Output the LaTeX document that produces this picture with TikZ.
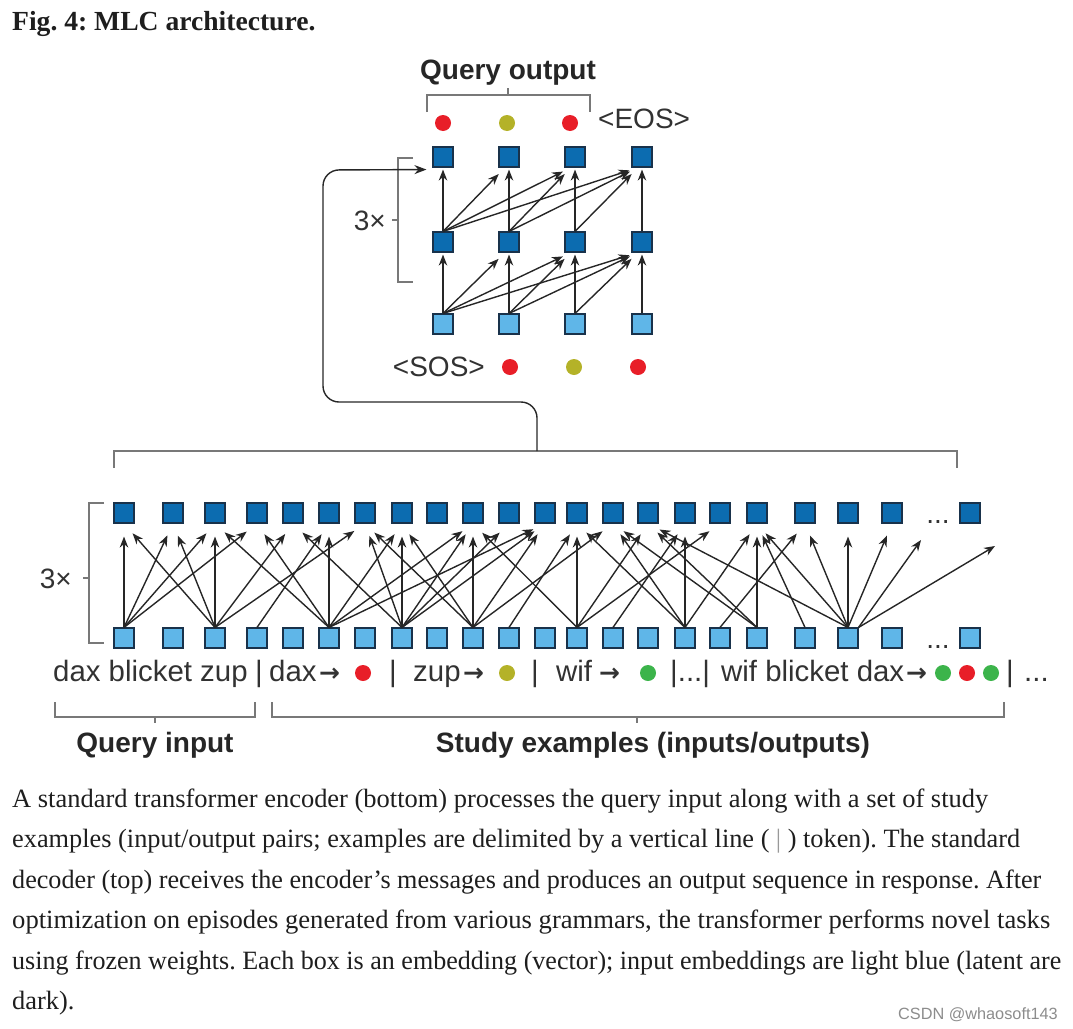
\documentclass[tikz,border=0pt]{standalone}
\usepackage{graphicx}
\usepackage{fontspec}
\setmainfont{Liberation Serif}
\setsansfont{Liberation Sans}
\newfontfamily\symfont{DejaVu Sans}
\usetikzlibrary{arrows.meta,calc}
\definecolor{lightbox}{RGB}{95,182,232}
\definecolor{darkbox}{RGB}{12,108,176}
\definecolor{boxedge}{RGB}{25,50,75}
\definecolor{dotred}{RGB}{232,30,40}
\definecolor{dotolive}{RGB}{180,178,40}
\definecolor{dotgreen}{RGB}{60,180,75}
\definecolor{brkgray}{RGB}{120,120,120}
\definecolor{lblgray}{RGB}{50,50,50}
\definecolor{captxt}{RGB}{30,30,30}
\frenchspacing
\newcommand{\capline}[2]{\resizebox{#1pt}{\height}{#2}}
\begin{document}
\begin{tikzpicture}[x=1pt,y=-1pt,
  inbox/.style={draw=boxedge, fill=lightbox, minimum size=20pt, inner sep=0pt, line width=1.1pt},
  latbox/.style={inbox, fill=darkbox},
  dot/.style={circle, inner sep=0pt, minimum size=16pt},
  att/.style={-{Stealth[length=11pt,width=8.5pt]}, line width=1.4pt, black!85},
  brk/.style={draw=brkgray, line width=1.1pt},
  lbl/.style={font=\sffamily\fontsize{28}{32}\selectfont, text=lblgray, inner sep=0pt, anchor=base west},
  tok/.style={lbl, font=\sffamily\fontsize{29.4}{32}\selectfont},
  blbl/.style={font=\sffamily\bfseries\fontsize{28}{32}\selectfont, text=black!85, inner sep=0pt, anchor=base},
  sym/.style={font=\symfont\bfseries\fontsize{25}{30}\selectfont, text=black!80, inner sep=0pt, anchor=base west},
  captext/.style={anchor=base west, inner sep=0pt, font=\fontsize{26.4}{30}\selectfont, text=captxt},
  wm/.style={anchor=base east, inner sep=0pt, font=\sffamily\fontsize{16.3}{18}\selectfont, text=black!45}
]
\useasboundingbox (0,0) rectangle (1073,1028);

% title
\node[anchor=base west, inner sep=0pt, font=\bfseries\fontsize{27.6}{30}\selectfont, text=captxt] (title) at (12,30) {Fig. 4: MLC architecture.};

% ---------------- decoder ----------------
\foreach \i/\x in {0/443,1/509,2/575,3/642} {
  \node[inbox]  (d\i) at (\x,324) {};
  \node[latbox] (m\i) at (\x,242) {};
  \node[latbox] (u\i) at (\x,157) {};
}
\foreach \a/\b in {0/0,0/1,0/2,0/3,1/1,1/2,1/3,2/2,2/3,3/3} {
  \ifnum\a=\b
    \draw[att, shorten >=2pt] (d\a.north) -- (m\b.south);
    \draw[att, shorten >=2pt] (m\a.north) -- (u\b.south);
  \else
    \draw[att, shorten >=9pt] (d\a.north) -- ([xshift=-4pt]m\b.south);
    \draw[att, shorten >=9pt] (m\a.north) -- ([xshift=-4pt]u\b.south);
  \fi
}
% output dots
\node[dot, fill=dotred]   (o0) at (443,123) {};
\node[dot, fill=dotolive] (o1) at (507,123) {};
\node[dot, fill=dotred]   (o2) at (570,123) {};
\node[lbl] (eos) at (598,128) {<EOS>};
% input dots
\node[dot, fill=dotred]   (s1) at (510,367) {};
\node[dot, fill=dotolive] (s2) at (574,367) {};
\node[dot, fill=dotred]   (s3) at (638,367) {};
\node[lbl, anchor=base east] (sos) at (485,376) {<SOS>};
% query output bracket
\node[blbl] (qout) at (508,79) {Query output};
\draw[brk] (427,112) -- (427,95) -- (590,95) -- (590,112);
\draw[brk] (508,95) -- (508,88);
% 3x bracket decoder
\draw[brk] (413,158) -- (398,158) -- (398,282) -- (413,282);
\draw[brk] (398,220) -- (392,220);
\node[lbl, anchor=base east] (rep1) at (386,230) {3×};

% ---------------- encoder ----------------
\foreach \x [count=\i] in {124,173,215,257,293,329,365,402,437,473,509,545,577,613,648,685,720,757,805,848,892,970} {
  \node[inbox]  (b\i) at (\x,638) {};
  \node[latbox] (t\i) at (\x,513) {};
}
\node[lbl, anchor=base] (ell1) at (938,523) {...};
\node[lbl, anchor=base] (ell2) at (938,648) {...};

\foreach \a/\b in {1/1,1/2,1/3,1/4, 3/1,3/2,3/3,3/5,3/7, 4/6,
  6/3,6/4,6/6,6/8,6/10,6/12, 8/5,8/7,8/8,8/10,8/11,8/12,
  10/7,10/8,10/10,10/12,10/14, 11/13,
  13/10,13/13,13/15,13/17, 14/16, 16/13,16/14,16/16,16/18, 17/19,
  18/14,18/15,18/18, 19/18, 20/15,20/18,20/19,20/20,20/21} {
  \draw[att, shorten >=13pt] (b\a.north) -- (t\b.south);
}
\coordinate (e1) at (921,540);
\coordinate (e2) at (995,546);
\draw[att] (b20.north east) -- (e1);
\draw[att] (b20.north east) -- (e2);

% encoder 3x bracket
\draw[brk] (104,503) -- (89,503) -- (89,643) -- (104,643);
\draw[brk] (89,578) -- (83,578);
\node[lbl, anchor=base east] (rep2) at (72,588) {3×};

% encoder top bracket and feedback arrow
\draw[brk] (114,468) -- (114,451) -- (957,451) -- (957,468);
\coordinate (fbs) at (537,451);
\coordinate (fbe) at ([xshift=-6pt,yshift=-2pt]u0.south west);
\draw[-{Stealth[length=12pt,width=9pt]}, line width=1.4pt, black!85, rounded corners=16pt]
  (fbs) -- (537,402) -- (323,402) -- (323,170) -- (fbe);

% token line
\node[tok] (q1) at (53,681) {dax blicket zup};
\node[tok] (bar1) at (255,681) {|};
\node[tok] (tk1) at (269,681) {dax};
\node[sym] (ar1) at (319,681) {→};
\node[dot, fill=dotred] (c1) at (363,673) {};
\node[tok] (bar2) at (389,681) {|};
\node[tok] (tk2) at (413,681) {zup};
\node[sym] (ar2) at (463,681) {→};
\node[dot, fill=dotolive] (c2) at (507,673) {};
\node[tok] (bar3) at (531,681) {|};
\node[tok] (tk3) at (556,681) {wif};
\node[sym] (ar3) at (599,681) {→};
\node[dot, fill=dotgreen] (c3) at (648,673) {};
\node[tok] (bar4) at (670,681) {|...|};
\node[tok] (tk4) at (721,681) {wif blicket dax};
\node[sym] (ar4) at (906,681) {→};
\node[dot, fill=dotgreen] (c4) at (943,673) {};
\node[dot, fill=dotred]   (c5) at (967,673) {};
\node[dot, fill=dotgreen] (c6) at (991,673) {};
\node[tok] (bar5) at (1006,681) {|};
\node[tok] (ell3) at (1024,681) {...};

% bottom brackets
\draw[brk] (55,702) -- (55,717) -- (255,717) -- (255,702);
\draw[brk] (155,717) -- (155,723);
\draw[brk] (272,702) -- (272,717) -- (1004,717) -- (1004,702);
\draw[brk] (637,717) -- (637,723);
\node[blbl] (qin) at (155,752) {Query input};
\node[blbl] (stu) at (653,752) {Study examples (inputs/outputs)};

% caption
\node[captext] (l1) at (12,807) {\capline{976}{A standard transformer encoder (bottom) processes the query input along with a set of study}};
\node[captext] (l2) at (12,847) {\capline{1008}{examples (input/output pairs; examples are delimited by a vertical line ( \textcolor{black!40}{|} ) token). The standard}};
\node[captext] (l3) at (12,888) {\capline{1029}{decoder (top) receives the encoder’s messages and produces an output sequence in response. After}};
\node[captext] (l4) at (12,928) {\capline{1038}{optimization on episodes generated from various grammars, the transformer performs novel tasks}};
\node[captext] (l5) at (12,969) {\capline{1049}{using frozen weights. Each box is an embedding (vector); input embeddings are light blue (latent are}};
\node[captext] (l6) at (12,1009) {dark).};
\node[wm] (wmk) at (1058,1019) {CSDN @whaosoft143};
\end{tikzpicture}
\end{document}
